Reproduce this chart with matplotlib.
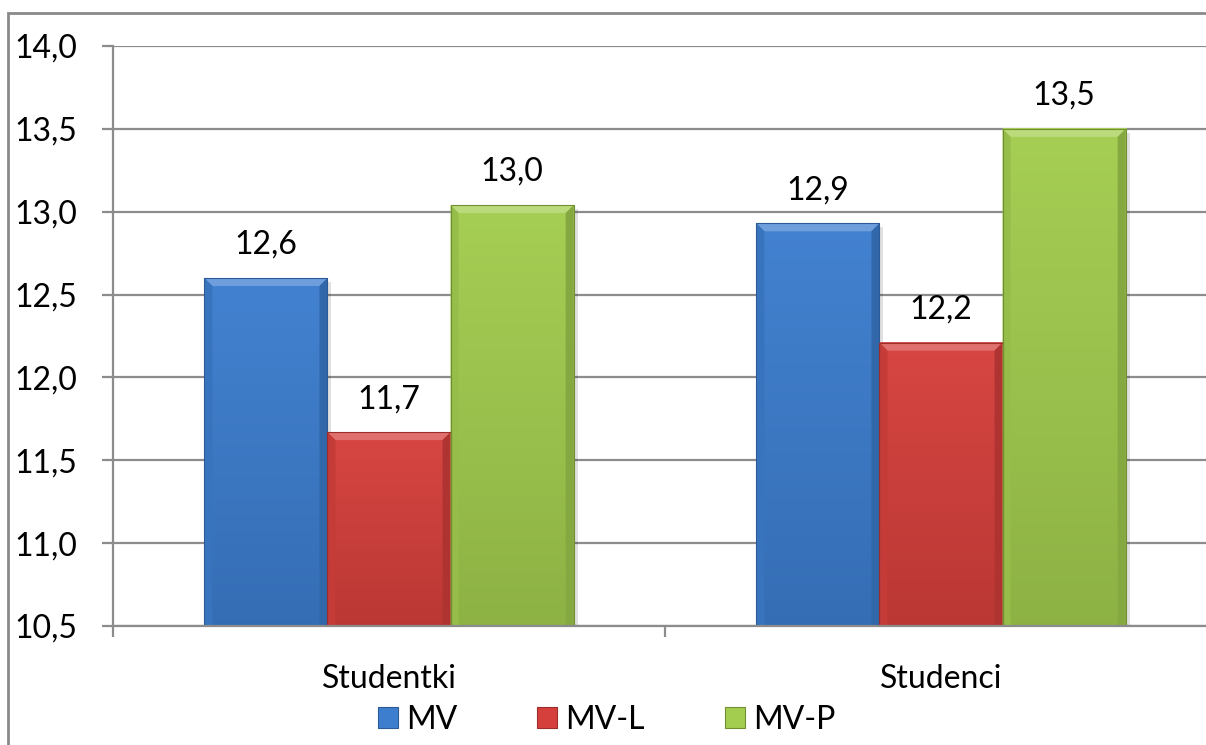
import matplotlib
matplotlib.use("Agg")
import matplotlib.pyplot as plt
import numpy as np
from matplotlib.patches import Polygon, Rectangle, Patch
from matplotlib.colors import to_rgb

plt.rcParams['font.family'] = ['Lato', 'DejaVu Sans']

categories = ["Studentki", "Studenci"]
series = ["MV", "MV-L", "MV-P"]
mv = [12.6, 12.93]
mv_l = [11.67, 12.21]
mv_p = [13.04, 13.5]

colors = ["#3d7ecf", "#d6403c", "#a3cd4f"]
edges = ["#2b5a96", "#9b2e2b", "#6f8f30"]

FS = 23
W, H = 1206, 745
fig = plt.figure(figsize=(W / 100, H / 100), dpi=100)
ax = fig.add_axes([113 / W, 119 / H, 1104 / W, 580 / H])
ax.set_xlim(-0.5, 1.5)
ax.set_ylim(10.5, 14.0)

# pixel -> data units, used for the bevel edges
px_x = 1.0 / 552
px_y = 3.5 / 580


def shade(c, f):
    r = np.array(to_rgb(c))
    if f >= 0:
        return tuple(r + (1 - r) * f)
    return tuple(r * (1 + f))


def bevel_bar(x0, w, top, base, color, edge):
    bottom = 10.5
    # soft shadow
    ax.add_patch(Rectangle((x0 + 4 * px_x, bottom), w, top - bottom - 4 * px_y,
                           facecolor="#000000", alpha=0.12, lw=0, zorder=2))
    # body with vertical gradient
    grad = np.linspace(0, 1, 256).reshape(-1, 1)
    c_top = np.array(shade(color, 0.03))
    c_bot = np.array(shade(color, -0.13))
    img = c_top[None, None, :] * (1 - grad[:, :, None]) + c_bot[None, None, :] * grad[:, :, None]
    ax.imshow(img, extent=(x0, x0 + w, bottom, top), origin="upper",
              aspect="auto", zorder=3, interpolation="bilinear")
    bx, by = 8 * px_x, 8 * px_y
    # top bevel (lighter)
    ax.add_patch(Polygon([(x0, top), (x0 + w, top), (x0 + w - bx, top - by), (x0 + bx, top - by)],
                         closed=True, facecolor=shade(color, 0.25), lw=0, zorder=4))
    # side bevels (darker)
    ax.add_patch(Polygon([(x0, top), (x0 + bx, top - by), (x0 + bx, bottom), (x0, bottom)],
                         closed=True, facecolor=shade(color, -0.08), lw=0, zorder=4))
    ax.add_patch(Polygon([(x0 + w, top), (x0 + w - bx, top - by), (x0 + w - bx, bottom), (x0 + w, bottom)],
                         closed=True, facecolor=shade(color, -0.18), lw=0, zorder=4))
    ax.add_patch(Rectangle((x0, bottom), w, top - bottom, facecolor="none",
                           edgecolor=edge, lw=0.8, zorder=5))


bw = 0.223
x = np.arange(len(categories))
for k, vals in enumerate([mv, mv_l, mv_p]):
    for i, v in enumerate(vals):
        xc = x[i] + (k - 1) * bw
        bevel_bar(xc - bw / 2, bw, v, 10.5, colors[k], edges[k])
        ax.annotate(f"{v:.1f}".replace(".", ","), (xc, v), xytext=(0, 13),
                    textcoords="offset points", ha="center", va="bottom",
                    fontsize=FS, color="black", zorder=6)

# axes styling
grid_c = "#8c8c8c"
ax.set_yticks(np.arange(10.5, 14.01, 0.5))
ax.set_yticklabels([f"{t:.1f}".replace(".", ",") for t in np.arange(10.5, 14.01, 0.5)])
ax.yaxis.grid(True, color=grid_c, lw=1.6, zorder=1)
ax.set_axisbelow(True)
ax.set_xticks(x)
ax.set_xticklabels(categories)
ax.set_xticks([-0.5, 0.5, 1.5], minor=True)
ax.tick_params(axis="x", which="major", length=0, pad=27, labelsize=FS)
ax.tick_params(axis="x", which="minor", length=8, width=1.6, color=grid_c)
ax.tick_params(axis="y", length=8, width=1.6, color=grid_c, pad=18, labelsize=FS)
for s in ["top", "right"]:
    ax.spines[s].set_visible(False)
for s in ["left", "bottom"]:
    ax.spines[s].set_color(grid_c)
    ax.spines[s].set_linewidth(1.6)
    ax.spines[s].set_zorder(6)

# chart frame
fig.patches.append(Rectangle((8 / W, -0.05), 1.2, 1.05 - 13 / H, transform=fig.transFigure,
                             facecolor="none", edgecolor="#8a8a8a", lw=2, zorder=0))

handles = [Patch(facecolor=colors[k], edgecolor=edges[k], lw=0.8) for k in range(3)]
fig.legend(handles, series, loc="center", bbox_to_anchor=(0.503, 0.034), ncol=3,
           frameon=False, fontsize=FS, handlelength=0.63, handleheight=0.63,
           handletextpad=0.25, columnspacing=2.5)

fig.savefig("out.png", dpi=100)
